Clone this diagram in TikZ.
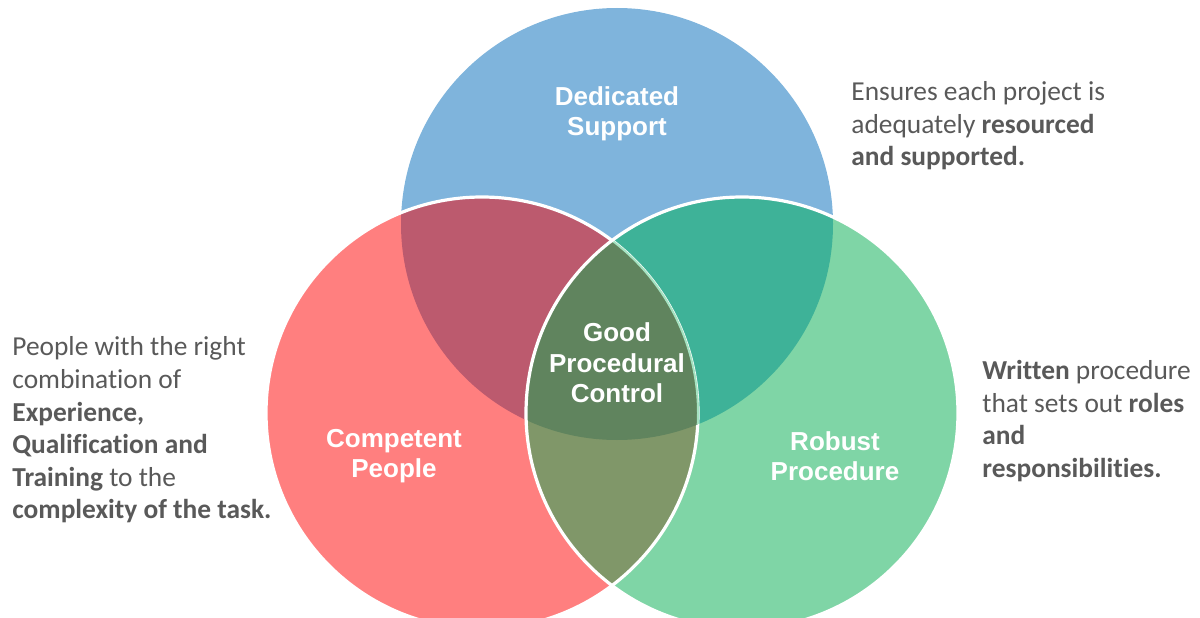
\documentclass[tikz,border=0pt]{standalone}
\usepackage{fontspec}
\setmainfont{Carlito}[Ligatures=NoCommon]
\newfontfamily\labelfont{Liberation Sans}

\begin{document}
\begin{tikzpicture}[x=0.5pt, y=0.5pt,
  circlabel/.style={font=\labelfont\bfseries\fontsize{13}{15.2}\selectfont, text=white, align=center, inner sep=0pt},
  sidetext/.style={font=\fontsize{13.7}{16.3}\selectfont, text=textgrey, align=left, inner sep=0pt, anchor=west}]

\definecolor{dsblue}{RGB}{127,180,220}
\definecolor{cpred}{RGB}{255,127,127}
\definecolor{rpgreen}{RGB}{127,213,166}
\definecolor{rbmix}{RGB}{188,90,110}
\definecolor{bgmix}{RGB}{62,178,152}
\definecolor{rgmix}{RGB}{128,151,105}
\definecolor{allmix}{RGB}{96,132,94}
\definecolor{textgrey}{RGB}{89,89,89}

\useasboundingbox (0,0) rectangle (1200,617);

\coordinate (B) at (617,393);
\coordinate (R) at (482,204);
\coordinate (G) at (742,204);

% the three circles
\fill[dsblue] (B) circle (216);
\fill[cpred] (R) circle (216);
\fill[rpgreen] (G) circle (216);

% pairwise overlaps
\begin{scope}
  \clip (B) circle (216);
  \fill[rbmix] (R) circle (216);
  \fill[bgmix] (G) circle (216);
\end{scope}
\begin{scope}
  \clip (R) circle (216);
  \fill[rgmix] (G) circle (216);
\end{scope}

\draw[white, line width=1.6pt] (R) circle (216);

% centre
\begin{scope}
  \clip (B) circle (216);
  \clip (R) circle (216);
  \fill[allmix] (G) circle (216);
\end{scope}
\begin{scope}
  \clip (B) circle (216);
  \clip (G) circle (216);
  \draw[rpgreen!70, line width=1pt] (R) circle (216);
\end{scope}

\draw[white, line width=1.6pt] (G) circle (216);

\node[circlabel] (support) at (617,503) {Dedicated\\Support};
\node[circlabel] (control) at (617,254) {Good\\Procedural\\Control};
\node[circlabel] (people) at (394,161) {Competent\\People};
\node[circlabel] (procedure) at (835,161) {Robust\\Procedure};

\node[sidetext] (supportnote) at (851,491) {Ensures each project is\\adequately \textbf{resourced}\\\textbf{and supported.}};
\node[sidetext] (peoplenote) at (12,187) {People with the right\\combination of\\\textbf{Experience,}\\\textbf{Qualification and}\\\textbf{Training} to the\\\textbf{complexity of the task.}};
\node[sidetext] (procedurenote) at (982,196) {\textbf{Written} procedure\\that sets out \textbf{roles}\\\textbf{and}\\\textbf{responsibilities.}};

\end{tikzpicture}
\end{document}
